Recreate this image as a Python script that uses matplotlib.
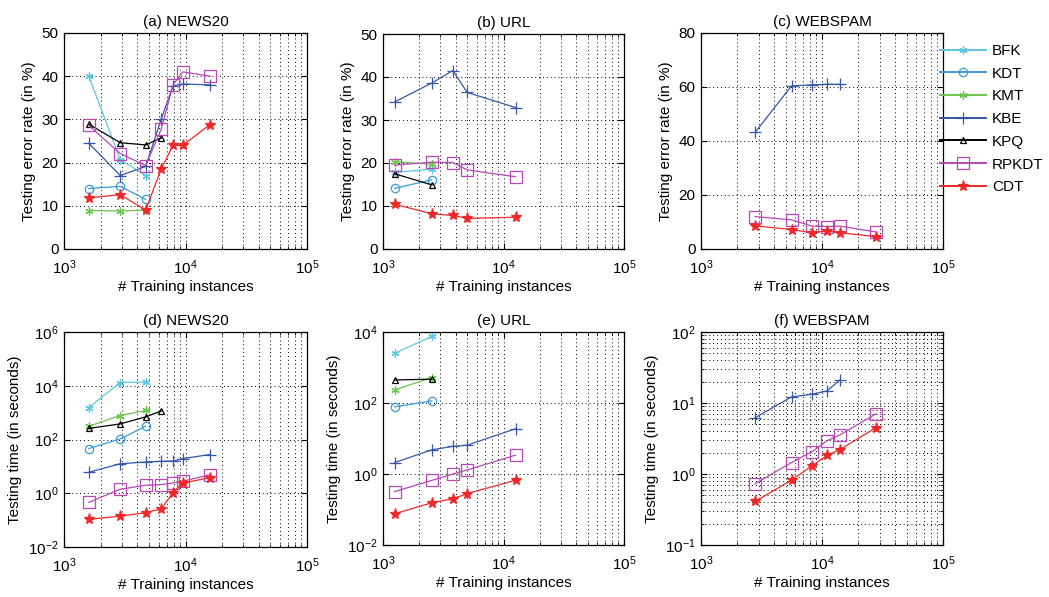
import matplotlib
matplotlib.use("Agg")
import matplotlib.pyplot as plt
from matplotlib.ticker import LogLocator, FixedLocator, NullFormatter, LogFormatterSciNotation
import numpy as np

plt.rcParams['font.family'] = ['Liberation Sans', 'DejaVu Sans']
plt.rcParams['mathtext.fontset'] = 'custom'
plt.rcParams['mathtext.rm'] = 'Liberation Sans'
plt.rcParams['mathtext.it'] = 'Liberation Sans:italic'
plt.rcParams['font.size'] = 11

methods = ['BFK', 'KDT', 'KMT', 'KBE', 'KPQ', 'RPKDT', 'CDT']

news_x = [1600, 2900, 4700, 6300, 7900, 9500, 15900]
url_x = [1250, 2540, 3800, 5000, 12600]
spam_x = [2800, 5600, 8300, 11000, 14000, 28000]

# (a) NEWS20 testing error rate (%)
news_err = {
    'BFK': [40.0, 20.7, 17.0],
    'KDT': [14.0, 14.5, 11.5],
    'KMT': [8.9, 8.8, 9.0],
    'KBE': [24.5, 17.0, 19.1, 30.0, 37.8, 38.2, 38.0],
    'KPQ': [28.9, 24.6, 24.1, 25.7],
    'RPKDT': [28.6, 22.1, 19.3, 27.7, 38.0, 41.0, 40.0],
    'CDT': [11.8, 12.6, 9.0, 18.5, 24.0, 24.0, 28.8],
}
# (b) URL testing error rate (%)
url_err = {
    'BFK': [17.8, 18.6],
    'KDT': [14.1, 16.1],
    'KMT': [20.3, 19.7],
    'KBE': [34.2, 38.6, 41.5, 36.4, 32.9],
    'KPQ': [17.5, 14.9],
    'RPKDT': [19.5, 20.2, 20.1, 18.4, 16.8],
    'CDT': [10.4, 8.2, 7.8, 7.1, 7.4],
}
# (c) WEBSPAM testing error rate (%)
spam_err = {
    'KBE': [43.2, 60.4, 60.8, 61.0, 61.0],
    'RPKDT': [12.0, 10.8, 8.5, 8.3, 8.5, 6.3],
    'CDT': [8.6, 7.2, 6.0, 6.7, 6.0, 4.6],
}
# (d) NEWS20 testing time (s)
news_time = {
    'BFK': [1550, 13200, 13800],
    'KDT': [46, 105, 310],
    'KMT': [310, 780, 1200],
    'KBE': [6.0, 12.5, 14.5, 15.5, 15.8, 19.5, 27.5],
    'KPQ': [260, 380, 690, 1150],
    'RPKDT': [0.46, 1.4, 1.98, 2.1, 2.4, 2.8, 4.9],
    'CDT': [0.107, 0.14, 0.19, 0.26, 1.06, 2.4, 3.8],
}
# (e) URL testing time (s)
url_time = {
    'BFK': [2500, 7600],
    'KDT': [78, 115],
    'KMT': [235, 520],
    'KBE': [2.1, 4.8, 6.0, 6.5, 18.8],
    'KPQ': [445, 470],
    'RPKDT': [0.32, 0.66, 1.0, 1.3, 3.4],
    'CDT': [0.076, 0.155, 0.2, 0.28, 0.67],
}
# (f) WEBSPAM testing time (s)
spam_time = {
    'KBE': [6.2, 12.2, 13.3, 14.8, 21.0],
    'RPKDT': [0.73, 1.45, 2.07, 2.94, 3.54, 7.05],
    'CDT': [0.41, 0.82, 1.31, 1.83, 2.2, 4.5],
}

titles = ['(a) NEWS20', '(b) URL', '(c) WEBSPAM', '(d) NEWS20', '(e) URL', '(f) WEBSPAM']

styles = {
    'BFK': dict(color='#5cc8e0', marker=(6, 2, 0), ms=6, mfc='#5cc8e0'),
    'KDT': dict(color='#3d9ad8', marker='o', ms=6, mfc='none'),
    'KMT': dict(color='#6ac64c', marker=(6, 2, 0), ms=6, mfc='#6ac64c'),
    'KBE': dict(color='#3656a8', marker='+', ms=8, mfc='none'),
    'KPQ': dict(color='black', marker='^', ms=5, mfc='none'),
    'RPKDT': dict(color='#b847b8', marker='s', ms=8, mfc='none'),
    'CDT': dict(color='#f02828', marker='*', ms=8, mfc='#f02828'),
}

W, H = 1049, 597
fig = plt.figure(figsize=(W / 100, H / 100), dpi=100)

def ax_at(l, t, r, b):
    return fig.add_axes([l / W, 1 - b / H, (r - l) / W, (b - t) / H])

boxes = [(64, 33, 307, 249), (383, 34, 624, 249), (701, 33, 943, 249),
         (64, 332, 307, 547), (383, 332, 624, 545), (701, 332, 943, 545)]
axes = [ax_at(*b) for b in boxes]

datasets = [(news_x, news_err), (url_x, url_err), (spam_x, spam_err),
            (news_x, news_time), (url_x, url_time), (spam_x, spam_time)]

grid_kw = dict(color='black', linestyle=(0, (1, 3)), linewidth=0.7)
handles = {}
for i, (ax, (xs, d)) in enumerate(zip(axes, datasets)):
    ax.set_xscale('log')
    for m in methods:
        if m not in d:
            continue
        ys = d[m]
        st = styles[m]
        ln, = ax.plot(xs[:len(ys)], ys, color=st['color'], marker=st['marker'],
                      markersize=st['ms'], markerfacecolor=st['mfc'],
                      markeredgecolor=st['color'], markeredgewidth=0.9,
                      linewidth=0.9, label=m)
        handles[m] = ln
    ax.set_xlim(1e3, 1e5)
    ax.xaxis.set_major_locator(FixedLocator([1e3, 1e4, 1e5]))
    ax.xaxis.set_major_formatter(LogFormatterSciNotation())
    ax.xaxis.set_minor_locator(LogLocator(base=10, subs=np.arange(2, 10), numticks=20))
    ax.xaxis.set_minor_formatter(NullFormatter())
    ax.set_title(titles[i], fontsize=11, pad=5)
    ax.set_xlabel('# Training instances', fontsize=11, labelpad=2)
    if i < 3:
        ax.set_ylabel('Testing error rate (in %)', fontsize=11, labelpad=4)
        if i == 2:
            ax.set_ylim(0, 80)
            ax.set_yticks([0, 20, 40, 60, 80])
        else:
            ax.set_ylim(0, 50)
            ax.set_yticks([0, 10, 20, 30, 40, 50])
        ax.grid(True, which='major', axis='both', **grid_kw)
        ax.grid(True, which='minor', axis='x', **grid_kw)
    else:
        ax.set_yscale('log')
        ax.set_ylabel('Testing time (in seconds)', fontsize=11, labelpad=4)
        if i == 3:
            ax.set_ylim(1e-2, 1e6)
            ax.yaxis.set_major_locator(FixedLocator([1e-2, 1e0, 1e2, 1e4, 1e6]))
            ax.yaxis.set_minor_locator(FixedLocator([]))
        elif i == 4:
            ax.set_ylim(1e-2, 1e4)
            ax.yaxis.set_major_locator(FixedLocator([1e-2, 1e0, 1e2, 1e4]))
            ax.yaxis.set_minor_locator(FixedLocator([]))
        else:
            ax.set_ylim(1e-1, 1e2)
            ax.yaxis.set_major_locator(FixedLocator([1e-1, 1e0, 1e1, 1e2]))
            ax.yaxis.set_minor_locator(LogLocator(base=10, subs=np.arange(2, 10), numticks=20))
            ax.yaxis.set_minor_formatter(NullFormatter())
        ax.yaxis.set_major_formatter(LogFormatterSciNotation())
        ax.grid(True, which='major', axis='both', **grid_kw)
        ax.grid(True, which='minor', axis='x', **grid_kw)
        if i == 5:
            ax.grid(True, which='minor', axis='y', **grid_kw)
    ax.tick_params(which='both', direction='in', top=True, right=True, labelsize=11)
    ax.tick_params(which='major', length=4)
    ax.tick_params(which='minor', length=2)
    ax.tick_params(axis='x', which='major', pad=7)
    ax.tick_params(axis='y', which='major', pad=4)
    for s in ax.spines.values():
        s.set_linewidth(0.9)
    ax.set_axisbelow(True)

leg = fig.legend([handles[m] for m in methods], methods,
                 loc='upper left', bbox_to_anchor=(940 / W, 1 - 44 / H),
                 frameon=False, fontsize=11, handlelength=3.0,
                 handletextpad=0.4, labelspacing=0.57, borderaxespad=0,
                 borderpad=0)
for l in leg.get_lines():
    l.set_linewidth(1.4)

fig.savefig('out.png', dpi=100)
